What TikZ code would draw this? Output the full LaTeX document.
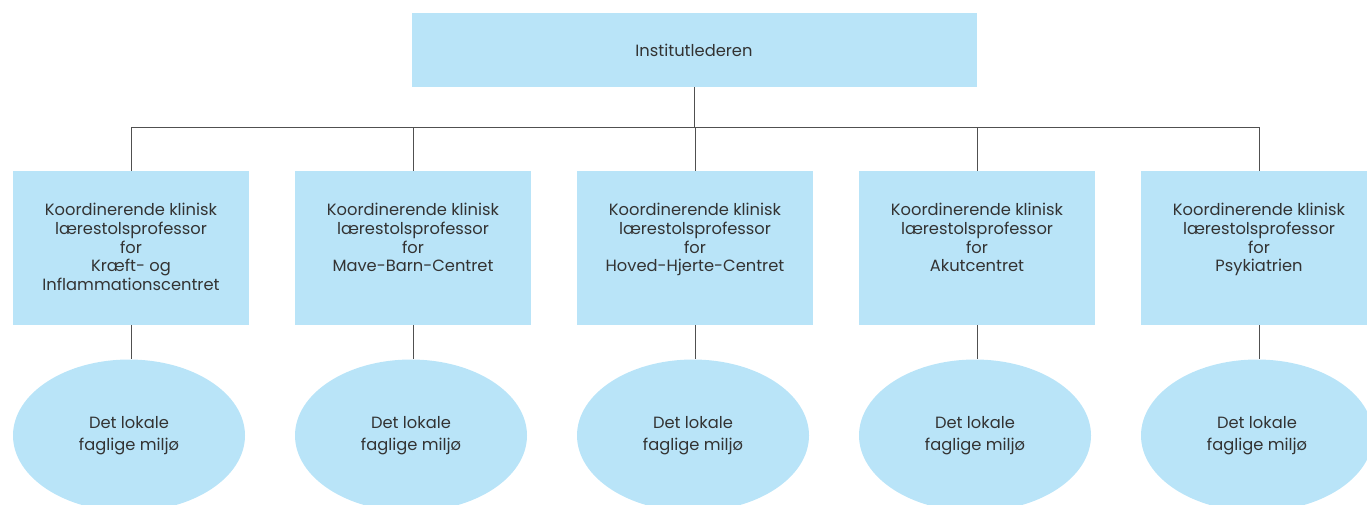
\documentclass[tikz,border=0pt]{standalone}
\usepackage{fontspec}
\setmainfont{Poppins}
\usetikzlibrary{shapes.geometric}
\definecolor{boxblue}{RGB}{185,228,248}
\definecolor{txt}{RGB}{51,51,51}
\definecolor{ln}{RGB}{80,80,80}
\begin{document}
\begin{tikzpicture}[x=1pt,y=-1pt,
  font=\fontsize{16.3}{18.8}\selectfont, text=txt,
  topbox/.style={rectangle, fill=boxblue, minimum width=565pt, minimum height=74pt, inner sep=0pt},
  rolebox/.style={rectangle, fill=boxblue, minimum width=236pt, minimum height=154pt, inner sep=0pt},
  roletext/.style={anchor=north, align=center, inner sep=0pt},
  env/.style={ellipse, fill=boxblue, minimum width=232pt, minimum height=152pt, inner sep=0pt, align=center,
    font=\fontsize{16.3}{22.4}\selectfont},
  conn/.style={draw=ln, line width=1pt}]
\useasboundingbox (0,0) rectangle (1367,504);
\clip (0,0) rectangle (1367,504);
\node[topbox] (top) at (694,50) {Institutlederen};
\coordinate (hub) at (694,127);
\foreach \i/\x/\t in {1/131/{Koordinerende klinisk\\lærestolsprofessor\\for\\Kræft- og\\Inflammationscentret},
                      2/413/{Koordinerende klinisk\\lærestolsprofessor\\for\\Mave-Barn-Centret},
                      3/695/{Koordinerende klinisk\\lærestolsprofessor\\for\\Hoved-Hjerte-Centret},
                      4/977/{Koordinerende klinisk\\lærestolsprofessor\\for\\Akutcentret},
                      5/1259/{Koordinerende klinisk\\lærestolsprofessor\\for\\Psykiatrien}} {
  \node[rolebox] (b\i) at (\x,248) {};
  \node[roletext] (t\i) at ([yshift=-32pt]b\i.north) {\t};
  \node[env] (e\i) at (\x-2,435.5) {Det lokale\\faglige miljø};
  \coordinate (j\i) at (\x,127);
  \draw[conn] (j\i) -- (b\i.north);
  \draw[conn] (b\i.south) -- (b\i.south |- e\i.north);
}
\draw[conn] (top.south) -- (hub);
\draw[conn] (j1) -- (j5);
\end{tikzpicture}
\end{document}
